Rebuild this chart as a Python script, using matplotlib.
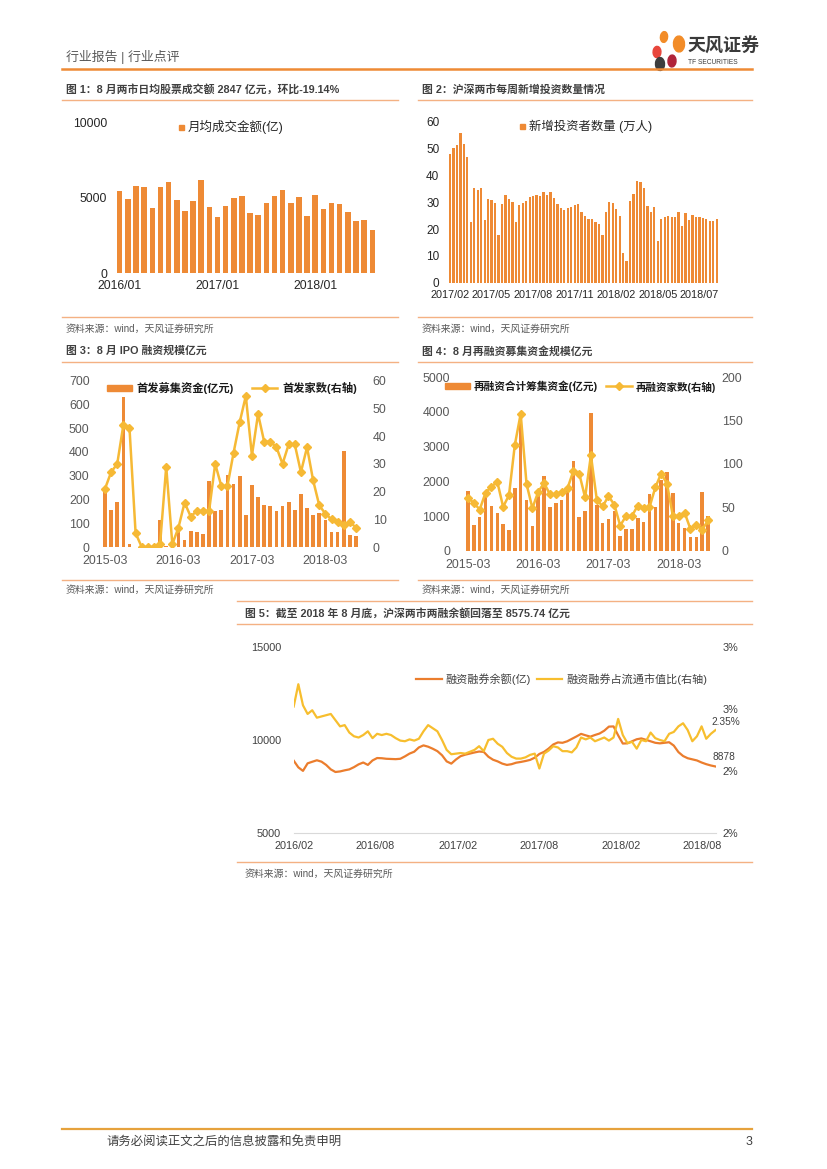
import matplotlib
matplotlib.use('Agg')
import matplotlib.pyplot as plt
import pandas as pd
from matplotlib.lines import Line2D
from matplotlib.patches import Rectangle, Ellipse

plt.rcParams['font.family'] = ['Liberation Sans', 'Noto Sans CJK SC']

# ---------------- data ----------------
# 图1 月均成交金额(亿)
months1 = ['2016/01', '2017/01', '2018/01']
turnover = [5420, 4890, 5800, 5710, 4310, 5710, 6040, 4870, 4090, 4800, 6190, 4400,
            3720, 4470, 5000, 5110, 4000, 3830, 4650, 5090, 5490, 4650, 5070, 3780,
            5200, 4270, 4670, 4580, 4050, 3430, 3520, 2847]

# 图2 每周新增投资者数量(万人)
weeks2 = ['2017/02', '2017/05', '2017/08', '2017/11', '2018/02', '2018/05', '2018/07']
new_investors = [48.0, 50.3, 51.3, 55.7, 51.8, 46.8, 22.6, 35.2, 34.5, 35.4, 23.5, 31.3,
                 30.7, 29.8, 17.9, 29.3, 32.5, 31.2, 30.1, 22.7, 29.1, 29.6, 30.6, 31.8,
                 32.3, 32.8, 32.4, 33.8, 32.7, 33.7, 31.7, 29.2, 27.8, 27.1, 27.7, 28.3,
                 28.8, 29.3, 26.5, 24.8, 23.7, 23.6, 22.5, 22.0, 17.6, 26.5, 30.2, 29.8,
                 27.3, 24.8, 11.2, 8.1, 30.6, 32.9, 38.0, 37.6, 35.3, 28.6, 26.2, 28.1,
                 15.4, 23.9, 24.3, 24.8, 24.3, 24.3, 26.5, 21.1, 26.1, 23.2, 25.1, 24.6,
                 24.3, 24.1, 23.7, 22.9, 22.9, 23.9]

# 图3 IPO (2015-03 ~ 2018-08)
months34 = ['2015-03', '2016-03', '2017-03', '2018-03']
ipo_amount = [230, 154, 188, 630, 14, 0, 0, 0, 0, 112, 3, 2, 62, 31, 69, 64, 56, 279,
              150, 157, 305, 265, 300, 134, 262, 209, 178, 174, 150, 171, 188, 157,
              223, 164, 136, 144, 115, 62, 64, 405, 52, 48]
ipo_count = [21, 27, 30, 44, 43, 5, 0, 0, 0, 1, 29, 1, 7, 16, 11, 13, 13, 13, 30, 22,
             22, 34, 45, 54.5, 33, 48, 38, 38, 36, 30, 37, 37, 27, 36, 24, 15, 12, 10,
             9, 8, 9, 7]

# 图4 再融资
refi_amount = [1724, 738, 958, 1650, 1303, 1073, 766, 594, 1820, 3946, 1475, 718, 1606,
               2150, 1264, 1380, 1456, 1791, 2577, 980, 1154, 3980, 1317, 788, 913, 1154,
               423, 625, 625, 933, 827, 1635, 1269, 2038, 2260, 1654, 808, 663, 385, 385,
               1702, 1000]
refi_count = [61, 55, 47.5, 67, 73.6, 79.7, 50.6, 64, 122, 158, 77, 49, 68, 78, 65, 65,
              68, 72, 92, 89, 61.5, 110, 59, 51, 63, 53, 29, 40, 40, 52, 49, 50, 73, 89,
              77, 40, 40, 44, 25, 30, 24, 35]

# 图5 两融余额(亿) 与 占流通市值比(%)
margin_balance = [8889, 8530, 8340, 8745, 8830, 8910, 8835, 8660, 8420, 8280, 8310, 8370,
                  8420, 8540, 8690, 8790, 8660, 8900, 9030, 9020, 8990, 8980, 8970, 8990,
                  9120, 9270, 9370, 9600, 9710, 9640, 9530, 9400, 9180, 8850, 8730, 8950,
                  9130, 9210, 9270, 9330, 9380, 9360, 9100, 8940, 8850, 8730, 8660, 8700,
                  8780, 8820, 8870, 8930, 9050, 9250, 9360, 9540, 9760, 9870, 9850, 9930,
                  10060, 10190, 10330, 10250, 10180, 10270, 10350, 10500, 10720, 10730,
                  10250, 9810, 9820, 9930, 10040, 10085, 10010, 9930, 9850, 9820, 9850,
                  9880, 9700, 9350, 9140, 9020, 8960, 8900, 8790, 8700, 8630, 8576]
margin_ratio = [2.52, 2.70, 2.53, 2.46, 2.49, 2.43, 2.44, 2.45, 2.46, 2.41, 2.36, 2.37,
                2.31, 2.28, 2.27, 2.29, 2.32, 2.265, 2.30, 2.29, 2.30, 2.29, 2.265, 2.245,
                2.24, 2.255, 2.245, 2.26, 2.32, 2.37, 2.345, 2.32, 2.25, 2.17, 2.135, 2.14,
                2.145, 2.14, 2.155, 2.17, 2.20, 2.16, 2.25, 2.26, 2.22, 2.195, 2.145, 2.115,
                2.10, 2.10, 2.11, 2.13, 2.14, 2.02, 2.14, 2.165, 2.20, 2.19, 2.16, 2.16,
                2.15, 2.19, 2.27, 2.255, 2.27, 2.24, 2.255, 2.27, 2.245, 2.27, 2.42, 2.29,
                2.225, 2.235, 2.18, 2.25, 2.24, 2.31, 2.265, 2.25, 2.24, 2.30, 2.315, 2.36,
                2.385, 2.33, 2.24, 2.28, 2.36, 2.26, 2.30, 2.33]
dates5 = pd.date_range('2016-02-01', '2018-08-31', periods=len(margin_balance))
ticks5 = pd.to_datetime(['2016-02-01', '2016-08-01', '2017-02-01', '2017-08-01',
                         '2018-02-01', '2018-08-01'])
ticklabels5 = ['2016/02', '2016/08', '2017/02', '2017/08', '2018/02', '2018/08']

# ---------------- figure ----------------
ORANGE = '#EE8A35'
YELLOW = '#F6B935'
LINE_C = '#F4B183'
W, H = 827, 1169
fig = plt.figure(figsize=(W / 100, H / 100), dpi=100)


def box(x0, y0, x1, y1):
    return fig.add_axes([x0 / W, 1 - y1 / H, (x1 - x0) / W, (y1 - y0) / H])


def ftext(x, y, s, **kw):
    kw.setdefault('va', 'center')
    fig.text(x / W, 1 - y / H, s, **kw)


def hline(x0, x1, y, color=LINE_C, lw=1.0):
    fig.add_artist(Line2D([x0 / W, x1 / W], [1 - y / H, 1 - y / H], color=color, lw=lw))


def clean(ax):
    for s in ax.spines.values():
        s.set_visible(False)
    ax.tick_params(length=0)


# header / footer
ftext(66, 57, '行业报告 | 行业点评', fontsize=9.3, color='#595959')
hline(62, 752, 69, color='#EE8A35', lw=1.8)
for (cx, cy, w, h, ang, c) in [(664, 37, 7, 11, -30, '#F28C28'), (679, 44, 11, 16, 25, '#F28C28'),
                               (657, 52, 8, 11, 60, '#E8463C'), (672, 61, 8, 12, -20, '#B0243A'),
                               (660, 64, 9, 13, 20, '#3D3D3D')]:
    fig.add_artist(Ellipse((cx / W, 1 - cy / H), w / W, h / H, angle=ang, color=c))
ftext(687, 47, '天风证券', fontsize=13, fontweight='bold', color='#3A3A3A')
ftext(688, 63, 'TF SECURITIES', fontsize=4.8, color='#3A3A3A')
hline(62, 752, 1129, color='#E6A23C', lw=1.6)
ftext(106, 1142, '请务必阅读正文之后的信息披露和免责申明', fontsize=8.9, color='#404040')
ftext(752, 1142, '3', fontsize=8.9, color='#404040', ha='right')

# panel frames
TITLE_KW = dict(fontsize=7.8, fontweight='bold', color='#404040')
SRC_KW = dict(fontsize=7.1, color='#595959')
ftext(66, 89, '图 1：8 月两市日均股票成交额 2847 亿元，环比-19.14%', **TITLE_KW)
ftext(422, 89, '图 2：沪深两市每周新增投资数量情况', **TITLE_KW)
hline(62, 398, 100)
hline(418, 752, 100)
hline(62, 398, 317)
hline(418, 752, 317)
ftext(66, 329, '资料来源：wind，天风证券研究所', **SRC_KW)
ftext(422, 329, '资料来源：wind，天风证券研究所', **SRC_KW)

ftext(66, 351, '图 3：8 月 IPO 融资规模亿元', **TITLE_KW)
ftext(422, 351, '图 4：8 月再融资募集资金规模亿元', **TITLE_KW)
hline(62, 398, 362)
hline(418, 752, 362)
hline(62, 398, 580)
hline(418, 752, 580)
ftext(66, 590, '资料来源：wind，天风证券研究所', **SRC_KW)
ftext(422, 590, '资料来源：wind，天风证券研究所', **SRC_KW)

hline(237, 752, 601)
ftext(245, 613, '图 5：截至 2018 年 8 月底，沪深两市两融余额回落至 8575.74 亿元', **TITLE_KW)
hline(237, 752, 624)
hline(237, 752, 862)
ftext(245, 874, '资料来源：wind，天风证券研究所', **SRC_KW)

# ---- chart 1 ----
ax1 = box(114, 122.5, 378, 273)
ax1.bar(range(len(turnover)), turnover, width=0.68, color=ORANGE)
ax1.set_xlim(-0.7, len(turnover) - 0.3)
ax1.set_ylim(0, 10000)
ax1.set_yticks([0, 5000, 10000])
ax1.set_xticks([0, 12, 24])
ax1.set_xticklabels(months1)
clean(ax1)
ax1.tick_params(axis='y', pad=5, labelsize=8.8, labelcolor='#262626')
ax1.tick_params(axis='x', pad=5, labelsize=8.8, labelcolor='#262626')
fig.add_artist(Rectangle((179 / W, 1 - 130 / H), 5 / W, 5 / H, color=ORANGE))
ftext(188, 127, '月均成交金额(亿)', fontsize=9, color='#262626')

# ---- chart 2 ----
ax2 = box(447.6, 121.7, 719.1, 282.7)
ax2.bar(range(len(new_investors)), new_investors, width=0.66, color=ORANGE)
ax2.set_xlim(-0.7, len(new_investors) - 0.3)
ax2.set_ylim(0, 60)
ax2.set_yticks(range(0, 61, 10))
ax2.set_xticks(range(0, 73, 12))
ax2.set_xticklabels(weeks2)
clean(ax2)
ax2.tick_params(axis='y', pad=6, labelsize=8.5, labelcolor='#262626')
ax2.tick_params(axis='x', pad=5, labelsize=7.8, labelcolor='#262626')
fig.add_artist(Rectangle((520 / W, 1 - 129 / H), 5 / W, 5 / H, color=ORANGE))
ftext(529, 126, '新增投资者数量 (万人)', fontsize=8.9, color='#262626')

# ---- chart 3 ----
ax3 = box(100.7, 380.7, 360.3, 547)
x34 = range(len(ipo_amount))
ax3.bar(x34, ipo_amount, width=0.6, color=ORANGE)
ax3.set_xlim(-0.7, len(ipo_amount) - 0.3)
ax3.set_ylim(0, 700)
ax3.set_yticks(range(0, 701, 100))
ax3.set_xticks([0, 12, 24, 36])
ax3.set_xticklabels(months34)
ax3b = ax3.twinx()
ax3b.plot(x34, ipo_count, color=YELLOW, lw=1.8, marker='D', ms=3.6)
ax3b.set_ylim(0, 60)
ax3b.set_yticks(range(0, 61, 10))
for a in (ax3, ax3b):
    clean(a)
    a.tick_params(labelsize=8.9, labelcolor='#595959')
ax3.tick_params(axis='y', pad=8)
ax3.tick_params(axis='x', pad=6)
ax3b.tick_params(axis='y', pad=9)
fig.add_artist(Rectangle((107 / W, 1 - 391 / H), 25 / W, 6 / H, color=ORANGE))
ftext(136, 388, '首发募集资金(亿元)', fontsize=8.1, fontweight='bold', color='#1A1A1A')
fig.add_artist(Line2D([252 / W, 277 / W], [1 - 388 / H] * 2, color=YELLOW, lw=1.8))
fig.add_artist(Line2D([264.5 / W], [1 - 388 / H], color=YELLOW, marker='D', ms=3.6))
ftext(282, 388, '首发家数(右轴)', fontsize=8.1, fontweight='bold', color='#1A1A1A')

# ---- chart 4 ----
ax4 = box(463.9, 377.3, 712.1, 550.7)
ax4.bar(x34, refi_amount, width=0.6, color=ORANGE)
ax4.set_xlim(-0.7, len(refi_amount) - 0.3)
ax4.set_ylim(0, 5000)
ax4.set_yticks(range(0, 5001, 1000))
ax4.set_xticks([0, 12, 24, 36])
ax4.set_xticklabels(months34)
ax4b = ax4.twinx()
ax4b.plot(x34, refi_count, color=YELLOW, lw=1.8, marker='D', ms=3.6)
ax4b.set_ylim(0, 200)
ax4b.set_yticks(range(0, 201, 50))
for a in (ax4, ax4b):
    clean(a)
    a.tick_params(labelsize=8.9, labelcolor='#595959')
ax4.tick_params(axis='y', pad=10)
ax4.tick_params(axis='x', pad=6)
ax4b.tick_params(axis='y', pad=7)
fig.add_artist(Rectangle((445 / W, 1 - 389 / H), 25 / W, 6 / H, color=ORANGE))
ftext(474, 386, '再融资合计筹集资金(亿元)', fontsize=7.7, fontweight='bold', color='#1A1A1A')
fig.add_artist(Line2D([606 / W, 632 / W], [1 - 386 / H] * 2, color=YELLOW, lw=1.8))
fig.add_artist(Line2D([619 / W], [1 - 386 / H], color=YELLOW, marker='D', ms=3.6))
ftext(636, 387, '再融资家数(右轴)', fontsize=7.6, fontweight='bold', color='#1A1A1A')

# ---- chart 5 ----
ax5 = box(293.7, 647, 715.5, 833)
ax5.plot(dates5, margin_balance, color='#EB7D2D', lw=1.6)
ax5.set_ylim(5000, 15000)
ax5.set_yticks([5000, 10000, 15000])
ax5.set_xlim(dates5[0], dates5[-1])
ax5.set_xticks(ticks5)
ax5.set_xticklabels(ticklabels5)
ax5b = ax5.twinx()
ax5b.plot(dates5, margin_ratio, color='#F7BE2E', lw=1.6)
ax5b.set_ylim(1.5, 3.0)
ax5b.set_yticks([1.5, 2.0, 2.5, 3.0])
ax5b.set_yticklabels(['2%', '2%', '3%', '3%'])
for a in (ax5, ax5b):
    clean(a)
    a.tick_params(labelsize=7.8, labelcolor='#404040')
ax5.spines['bottom'].set_visible(True)
ax5.spines['bottom'].set_color('#D9D9D9')
ax5.tick_params(axis='y', pad=9)
ax5.tick_params(axis='x', pad=6)
ax5b.tick_params(axis='y', pad=5)
ax5b.annotate('2.35%', (dates5[-1], margin_ratio[-1]), xytext=(-3, 6), textcoords='offset points',
              fontsize=7.3, color='#404040', ha='left', va='center')
ax5.annotate('8878', (dates5[-1], margin_balance[-1]), xytext=(6, 7), textcoords='offset points',
             fontsize=7.3, color='#404040', ha='center', va='center')
fig.add_artist(Line2D([416 / W, 442 / W], [1 - 679 / H] * 2, color='#EB7D2D', lw=1.6))
ftext(445, 679, '融资融券余额(亿)', fontsize=8, color='#404040')
fig.add_artist(Line2D([537 / W, 562 / W], [1 - 679 / H] * 2, color='#F7BE2E', lw=1.6))
ftext(566, 679, '融资融券占流通市值比(右轴)', fontsize=8, color='#404040')

fig.savefig('out.png', dpi=100)
